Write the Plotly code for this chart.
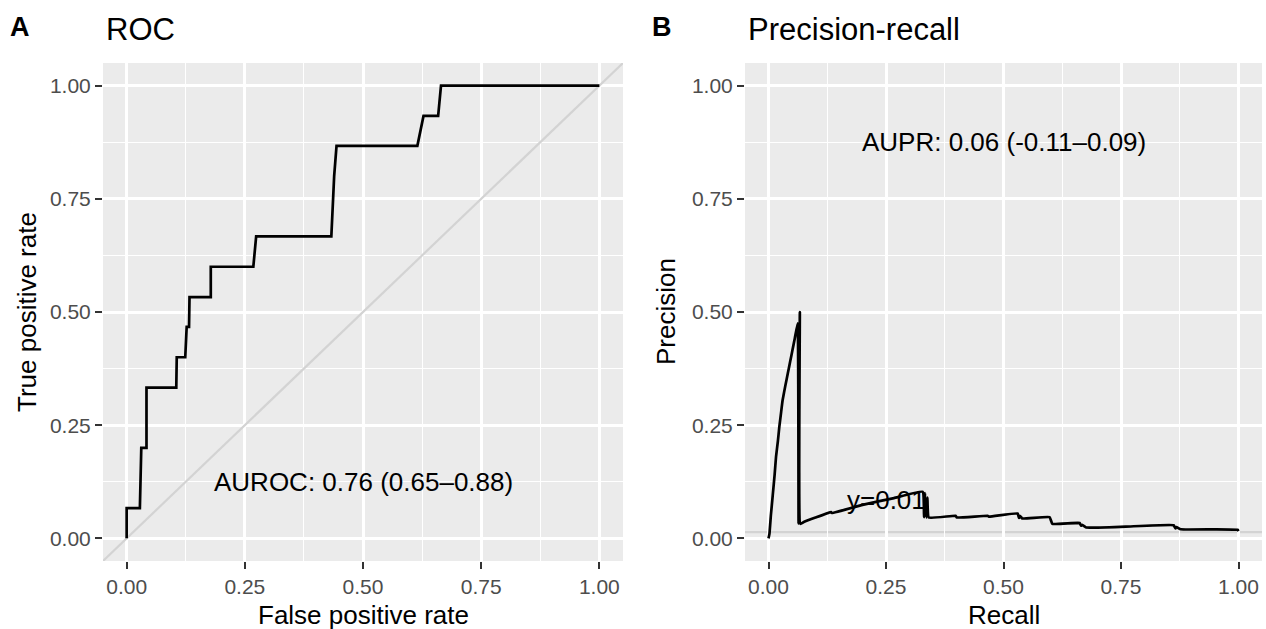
import plotly.graph_objects as go

# ---------------- data ----------------
roc_fpr = [0, 0, 0.028, 0.029, 0.031, 0.042, 0.042, 0.105, 0.106, 0.124, 0.127, 0.132,
           0.133, 0.178, 0.178, 0.268, 0.274, 0.433, 0.439, 0.444, 0.615, 0.628, 0.659,
           0.665, 1.0]
roc_tpr = [0, 0.0667, 0.0667, 0.133, 0.2, 0.2, 0.333, 0.333, 0.4, 0.4, 0.467, 0.467,
           0.533, 0.533, 0.6, 0.6, 0.667, 0.667, 0.8, 0.867, 0.867, 0.933, 0.933,
           1.0, 1.0]

pr_recall = [0, 0.002, 0.005, 0.009, 0.013, 0.016, 0.020, 0.023, 0.027, 0.030, 0.036,
             0.041, 0.046, 0.051, 0.056, 0.062, 0.064, 0.0667,
             0.068, 0.075, 0.10, 0.133, 0.135, 0.20, 0.267, 0.328, 0.331, 0.333, 0.336,
             0.338, 0.341, 0.398, 0.401, 0.466, 0.469, 0.530, 0.533, 0.535, 0.540,
             0.598, 0.604, 0.662, 0.665, 0.667, 0.676, 0.76, 0.862, 0.866, 0.868,
             0.877, 0.95, 0.998, 1.0]
pr_precision = [0.0, 0.01, 0.05, 0.095, 0.14, 0.18, 0.215, 0.246, 0.28, 0.305, 0.338,
                0.364, 0.39, 0.416, 0.442, 0.475, 0.033, 0.50,
                0.032, 0.036, 0.046, 0.058, 0.056, 0.074, 0.089, 0.103, 0.047, 0.10,
                0.046, 0.09, 0.046, 0.050, 0.046, 0.050, 0.048, 0.055, 0.045, 0.050,
                0.044, 0.047, 0.032, 0.034, 0.028, 0.030, 0.024, 0.026, 0.029, 0.022,
                0.025, 0.020, 0.020, 0.019, 0.016]

pr_baseline = 0.014
diag_intercept, diag_slope = 0.0, 1.0

tick_vals = [0, 0.25, 0.5, 0.75, 1.0]
tick_text = ["0.00", "0.25", "0.50", "0.75", "1.00"]
minor_vals = [0.125, 0.375, 0.625, 0.875]

auroc_label = "AUROC: 0.76 (0.65\u20130.88)"
aupr_label = "AUPR: 0.06 (-0.11\u20130.09)"
baseline_label = "y=0.01"

# ---------------- layout helpers ----------------
W, H = 1266, 629
FONT = "Liberation Sans, Arial, Helvetica, sans-serif"
axis_range = [-0.05, 1.05]


def px_x(p):
    return p / W


def px_y(p):
    return 1 - p / H


axis_common = dict(
    range=axis_range,
    tickvals=tick_vals,
    ticktext=tick_text,
    ticks="outside",
    ticklen=7,
    tickwidth=2.4,
    tickcolor="#333333",
    tickfont=dict(family=FONT, size=21, color="#4D4D4D"),
    showgrid=True,
    gridcolor="white",
    gridwidth=2.6,
    zeroline=False,
    showline=False,
    minor=dict(tickvals=minor_vals, showgrid=True, gridcolor="white", gridwidth=1.3, ticks=""),
    fixedrange=True,
)

fig = go.Figure()

# diagonal reference (abline) on ROC
dx = axis_range
fig.add_trace(go.Scatter(
    x=dx, y=[diag_intercept + diag_slope * v for v in dx],
    mode="lines", line=dict(color="#D3D3D3", width=2.2),
    xaxis="x", yaxis="y", showlegend=False, hoverinfo="skip"))

fig.add_trace(go.Scatter(
    x=roc_fpr, y=roc_tpr, mode="lines",
    line=dict(color="black", width=2.7),
    xaxis="x", yaxis="y", showlegend=False))

# PR baseline
fig.add_shape(type="line", xref="x2 domain", x0=0, x1=1, yref="y2",
              y0=pr_baseline, y1=pr_baseline,
              line=dict(color="#D3D3D3", width=2.2), layer="below")

fig.add_trace(go.Scatter(
    x=pr_recall, y=pr_precision, mode="lines",
    line=dict(color="black", width=2.7, shape="spline", smoothing=0.3),
    xaxis="x2", yaxis="y2", showlegend=False))

left = (103, 623)
right = (745, 1262)
top, bottom = 63, 561

fig.update_layout(
    width=W, height=H,
    margin=dict(l=0, r=0, t=0, b=0),
    paper_bgcolor="white",
    plot_bgcolor="#EBEBEB",
    font=dict(family=FONT, color="black"),
    xaxis=dict(domain=[px_x(left[0]), px_x(left[1])], anchor="y", **axis_common),
    yaxis=dict(domain=[px_y(bottom), px_y(top)], anchor="x", **axis_common),
    xaxis2=dict(domain=[px_x(right[0]), px_x(right[1])], anchor="y2", **axis_common),
    yaxis2=dict(domain=[px_y(bottom), px_y(top)], anchor="x2", **axis_common),
    showlegend=False,
)

ann = []
# panel letters
ann.append(dict(text="<b>A</b>", x=px_x(8), y=px_y(27), xref="paper", yref="paper",
                xanchor="left", yanchor="middle", showarrow=False,
                font=dict(family=FONT, size=27, color="black")))
ann.append(dict(text="<b>B</b>", x=px_x(650), y=px_y(27), xref="paper", yref="paper",
                xanchor="left", yanchor="middle", showarrow=False,
                font=dict(family=FONT, size=27, color="black")))
# titles
ann.append(dict(text="ROC", x=px_x(left[0] + 1), y=px_y(30), xref="paper", yref="paper",
                xanchor="left", yanchor="middle", showarrow=False,
                font=dict(family=FONT, size=31, color="black")))
ann.append(dict(text="Precision-recall", x=px_x(right[0] + 1), y=px_y(30), xref="paper",
                yref="paper", xanchor="left", yanchor="middle", showarrow=False,
                font=dict(family=FONT, size=31, color="black")))
# axis titles
ann.append(dict(text="False positive rate", x=px_x((left[0] + left[1]) / 2), y=px_y(615),
                xref="paper", yref="paper", xanchor="center", yanchor="middle",
                showarrow=False, font=dict(family=FONT, size=26, color="black")))
ann.append(dict(text="Recall", x=px_x((right[0] + right[1]) / 2), y=px_y(615),
                xref="paper", yref="paper", xanchor="center", yanchor="middle",
                showarrow=False, font=dict(family=FONT, size=26, color="black")))
ann.append(dict(text="True positive rate", x=px_x(27), y=px_y((top + bottom) / 2),
                xref="paper", yref="paper", xanchor="center", yanchor="middle",
                textangle=-90, showarrow=False, font=dict(family=FONT, size=26, color="black")))
ann.append(dict(text="Precision", x=px_x(666), y=px_y((top + bottom) / 2),
                xref="paper", yref="paper", xanchor="center", yanchor="middle",
                textangle=-90, showarrow=False, font=dict(family=FONT, size=26, color="black")))
# in-plot labels
ann.append(dict(text=auroc_label, x=0.5, y=0.125, xref="x", yref="y", showarrow=False,
                xanchor="center", yanchor="middle",
                font=dict(family=FONT, size=26, color="black")))
ann.append(dict(text=aupr_label, x=0.5, y=0.875, xref="x2", yref="y2", showarrow=False,
                xanchor="center", yanchor="middle",
                font=dict(family=FONT, size=26, color="black")))
ann.append(dict(text=baseline_label, x=0.25, y=0.085, xref="x2", yref="y2", showarrow=False,
                xanchor="center", yanchor="middle",
                font=dict(family=FONT, size=26, color="black")))

fig.update_layout(annotations=ann)

fig.write_html("out.html")
